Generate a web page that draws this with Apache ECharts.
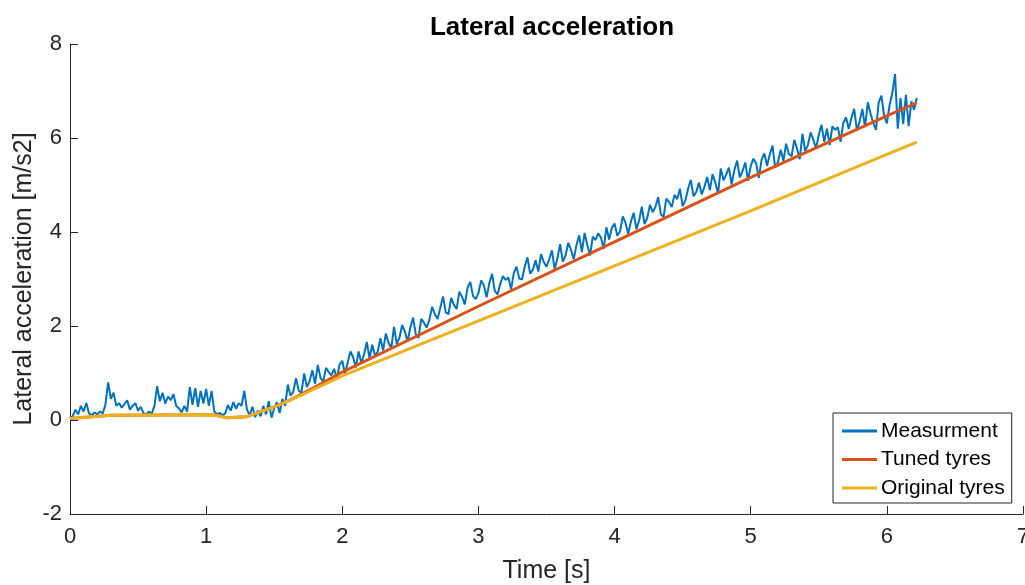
<!DOCTYPE html>
<html>
<head>
<meta charset="utf-8">
<script src="https://cdn.jsdelivr.net/npm/echarts@6/dist/echarts.min.js"></script>
<style>
  html, body { margin: 0; padding: 0; background: #fff; }
  #chart { width: 1025px; height: 585px; }
</style>
</head>
<body>
<div id="chart"></div>
<script>
// sample step of the measurement (s)
const dt = 0.02;

// measured lateral acceleration [m/s2], one value every dt from t = 0
const measurement = [
  0.04, 0.08, 0.22, 0.12, 0.30, 0.18, 0.36, 0.14, 0.10, 0.16,
  0.12, 0.18, 0.14, 0.32, 0.80, 0.45, 0.58, 0.30, 0.36, 0.26,
  0.34, 0.42, 0.22, 0.30, 0.36, 0.20, 0.28, 0.14, 0.12, 0.18,
  0.13, 0.30, 0.72, 0.40, 0.58, 0.35, 0.50, 0.42, 0.55, 0.30,
  0.25, 0.16, 0.30, 0.18, 0.70, 0.32, 0.68, 0.28, 0.62, 0.35,
  0.66, 0.30, 0.62, 0.18, 0.12, 0.15, 0.10, 0.14, 0.32, 0.20,
  0.38, 0.24, 0.36, 0.30, 0.62, 0.22, 0.10, 0.28, 0.06, 0.20,
  0.08, 0.30, 0.12, 0.40, 0.05, 0.25, 0.38, 0.15, 0.45, 0.30,
  0.75, 0.52, 0.60, 0.89, 0.63, 0.58, 0.99, 0.70, 0.83, 1.06,
  0.77, 1.17, 0.90, 0.81, 1.11, 1.02, 0.95, 1.09, 0.87, 1.18,
  1.26, 0.98, 1.23, 1.46, 1.33, 1.12, 1.46, 1.21, 1.40, 1.66,
  1.31, 1.60, 1.37, 1.45, 1.74, 1.48, 1.84, 1.64, 1.53, 1.98,
  1.62, 1.75, 2.02, 1.88, 1.67, 1.97, 2.18, 1.82, 1.75, 2.15,
  2.07, 1.97, 2.13, 2.41, 2.25, 2.15, 2.39, 2.63, 2.29, 2.25,
  2.60, 2.45, 2.36, 2.73, 2.62, 2.46, 2.81, 2.94, 2.64, 2.57,
  2.70, 2.97, 2.86, 2.61, 2.91, 3.11, 2.75, 2.67, 2.89, 3.06,
  2.98, 3.03, 2.78, 3.13, 3.26, 3.01, 2.99, 3.26, 3.46, 3.11,
  3.20, 3.40, 3.16, 3.53, 3.36, 3.26, 3.42, 3.61, 3.20, 3.44,
  3.74, 3.37, 3.50, 3.77, 3.62, 3.42, 3.72, 3.93, 3.57, 3.98,
  3.72, 3.50, 3.90, 3.83, 3.97, 3.88, 3.64, 4.10, 3.84, 4.09,
  4.18, 3.92, 4.01, 4.33, 4.20, 3.96, 4.22, 4.41, 4.06, 4.24,
  4.54, 4.17, 4.30, 4.58, 4.42, 4.53, 4.74, 4.38, 4.32, 4.71,
  4.64, 4.53, 4.79, 4.70, 4.92, 4.55, 4.67, 4.92, 5.11, 4.76,
  4.85, 5.05, 4.80, 4.96, 5.17, 4.89, 5.23, 5.05, 4.82, 5.35,
  5.10, 5.22, 5.37, 5.01, 5.32, 5.52, 5.16, 5.30, 5.48, 5.09,
  5.40, 5.56, 5.46, 5.15, 5.54, 5.67, 5.41, 5.65, 5.84, 5.37,
  5.48, 5.75, 5.51, 5.88, 5.66, 5.61, 5.96, 5.77, 5.55, 6.09,
  5.72, 5.85, 6.12, 5.96, 5.77, 6.07, 6.28, 5.92, 6.20, 5.85,
  6.25, 6.17, 6.23, 5.92, 6.32, 6.44, 6.19, 6.43, 6.62, 6.16,
  6.35, 6.62, 6.23, 6.76, 6.52, 6.32, 6.17, 6.76, 6.90, 6.47,
  6.31, 6.70, 6.95, 7.36, 6.20, 6.85, 6.30, 6.92, 6.25, 6.78,
  6.60, 6.85
];

// simulation results (time [s], acceleration [m/s2])
const tunedTime = [0, 0.3, 1.05, 1.15, 1.3, 1.4, 1.5, 1.6, 1.7, 1.8, 1.9, 2.0, 3, 4, 5, 6, 6.22];
const tunedTyres = [0.03, 0.1, 0.11, 0.05, 0.07, 0.18, 0.28, 0.4, 0.55, 0.7, 0.86, 1.02, 2.42, 3.79, 5.16, 6.47, 6.75];
const originalTime = [0, 0.3, 1.05, 1.15, 1.3, 1.4, 1.5, 1.6, 1.7, 1.8, 1.9, 2.0, 3, 4, 5, 6, 6.22];
const originalTyres = [0.03, 0.1, 0.11, 0.05, 0.07, 0.18, 0.28, 0.4, 0.53, 0.67, 0.8, 0.94, 2.11, 3.28, 4.45, 5.65, 5.91];

const seriesNames = ["Measurment", "Tuned tyres", "Original tyres"];
const xTicks = [0, 1, 2, 3, 4, 5, 6, 7];
const yTicks = [-2, 0, 2, 4, 6, 8];

const pair = (xs, ys) => ys.map((v, i) => [xs[i], v]);
const measData = measurement.map((v, i) => [+(i * dt).toFixed(2), v]);

const font = '"Liberation Sans", Arial, Helvetica, sans-serif';
const axisColor = '#262626';

const chart = echarts.init(document.getElementById('chart'));
chart.setOption({
    animation: false,
    backgroundColor: '#fff',
    title: {
        text: 'Lateral acceleration',
        left: 547,
        top: 10,
        textAlign: 'center',
        textStyle: { fontFamily: font, fontSize: 26, fontWeight: 'bold', color: '#000' }
    },
    grid: { left: 70, right: 2, top: 44, bottom: 71, outerBoundsMode: 'none', containLabel: false },
    legend: {
        data: seriesNames,
        orient: 'vertical',
        left: 833,
        top: 413,
        padding: [7, 7, 4, 9],
        itemGap: 6.5,
        itemWidth: 35,
        itemHeight: 3,
        icon: 'rect',
        borderColor: axisColor,
        borderWidth: 1,
        borderRadius: 0,
        backgroundColor: '#fff',
        selectedMode: false,
        textStyle: { fontFamily: font, fontSize: 21, color: '#000', lineHeight: 22, padding: [0, 0, 0, -1] }
    },
    xAxis: {
        type: 'value',
        min: xTicks[0],
        max: xTicks[xTicks.length - 1],
        interval: 1,
        name: 'Time [s]',
        nameLocation: 'middle',
        nameGap: 45,
        nameMoveOverlap: false,
        nameTextStyle: { fontFamily: font, fontSize: 25, color: axisColor },
        axisLine: { onZero: false, lineStyle: { color: axisColor, width: 1 } },
        axisTick: { inside: true, length: 8, lineStyle: { color: axisColor } },
        axisLabel: { fontFamily: font, fontSize: 22, color: axisColor, margin: 12, showMaxLabel: true },
        splitLine: { show: false }
    },
    yAxis: {
        type: 'value',
        min: yTicks[0],
        max: yTicks[yTicks.length - 1],
        interval: 2,
        name: 'Lateral acceleration [m/s2]',
        nameLocation: 'middle',
        nameGap: 33,
        nameMoveOverlap: false,
        nameTextStyle: { fontFamily: font, fontSize: 25, color: axisColor },
        axisLine: { show: true, onZero: false, lineStyle: { color: axisColor, width: 1 } },
        axisTick: { show: true, inside: true, length: 8, lineStyle: { color: axisColor } },
        axisLabel: { fontFamily: font, fontSize: 22, color: axisColor, margin: 8 },
        splitLine: { show: false }
    },
    series: [{
        name: seriesNames[0],
        type: 'line',
        data: measData,
        showSymbol: false,
        itemStyle: { color: '#0072BD' },
        lineStyle: { color: '#0072BD', width: 2 },
        z: 2
    }, {
        name: seriesNames[1],
        type: 'line',
        data: pair(tunedTime, tunedTyres),
        showSymbol: false,
        itemStyle: { color: '#D95319' },
        lineStyle: { color: '#D95319', width: 3 },
        z: 3
    }, {
        name: seriesNames[2],
        type: 'line',
        data: pair(originalTime, originalTyres),
        showSymbol: false,
        itemStyle: { color: '#EDB120' },
        lineStyle: { color: '#EDB120', width: 3 },
        z: 4
    }]
});
</script>
</body>
</html>
